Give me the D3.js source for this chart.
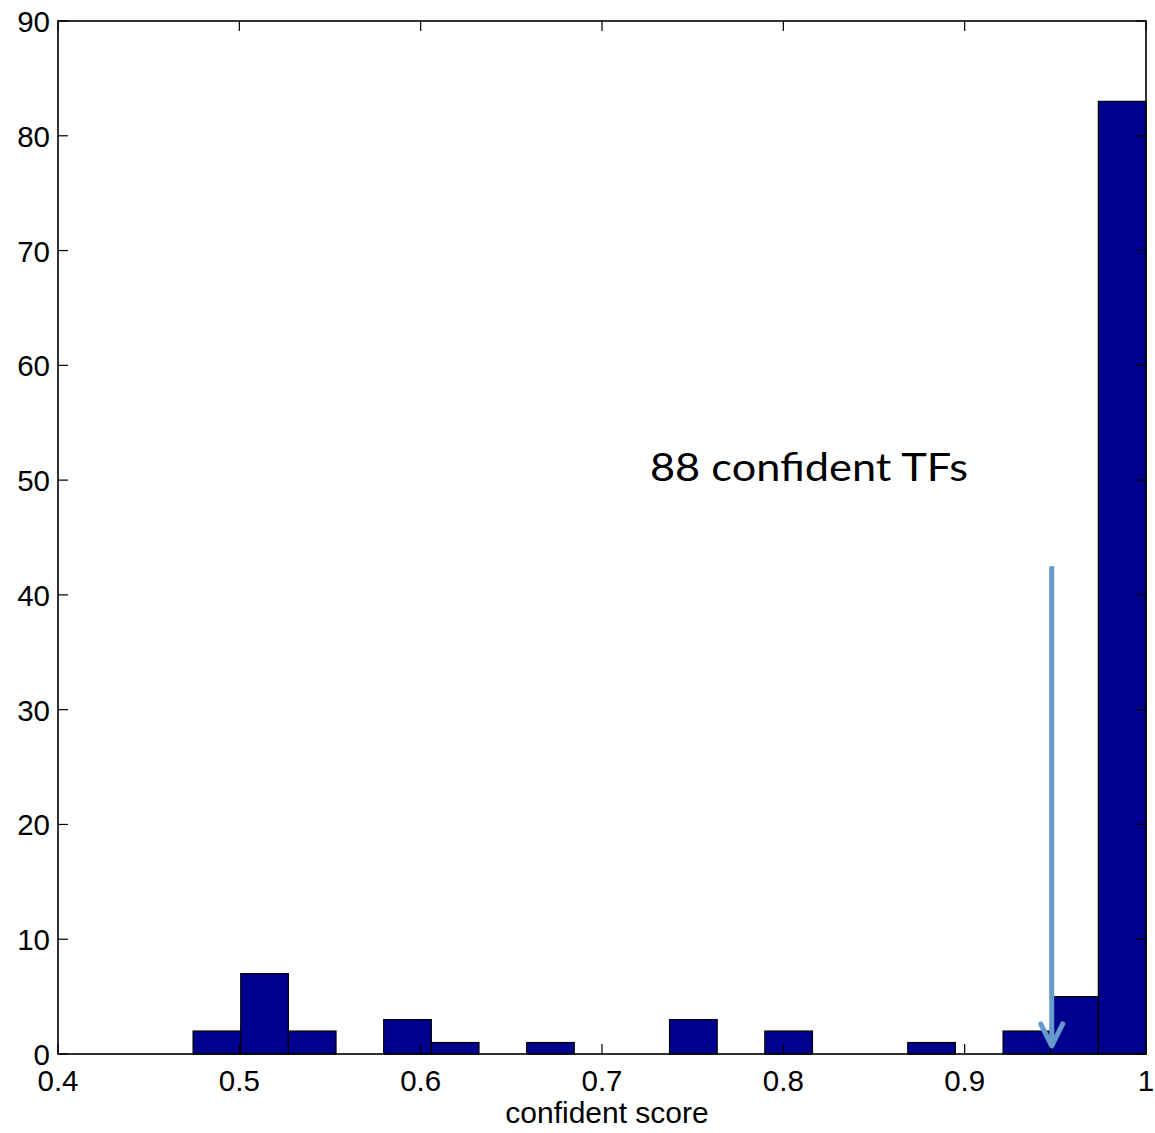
<!DOCTYPE html>
<html>
<head>
<meta charset="utf-8">
<script src="https://cdn.jsdelivr.net/npm/d3@7"></script>
<style>
body { margin: 0; background: #fff; }
svg { display: block; }
</style>
</head>
<body>
<script>
// Histogram: 20 bins from min to max
const binStart = 0.4745;
const binEnd = 1.0;
const counts = [2, 7, 2, 0, 3, 1, 0, 1, 0, 0, 3, 0, 2, 0, 0, 1, 0, 2, 5, 83];
const xTicks = [0.4, 0.5, 0.6, 0.7, 0.8, 0.9, 1];
const xTickLabels = ["0.4", "0.5", "0.6", "0.7", "0.8", "0.9", "1"];
const yTicks = [0, 10, 20, 30, 40, 50, 60, 70, 80, 90];
const xLabel = "confident score";
const annotation = "88 confident TFs";
const arrowX = 0.948;
const arrowFrom = 42.5;
const arrowTo = 0.7;

(function () {
const W = 1155, H = 1133;
const svg = d3.select("body").append("svg").attr("width", W).attr("height", H);

const mLeft = 58, mRight = 1146, mTop = 21, mBottom = 1054;
const x = d3.scaleLinear().domain([0.4, 1]).range([mLeft, mRight]);
const y = d3.scaleLinear().domain([0, 90]).range([mBottom, mTop]);

const nb = counts.length;
const bw = (binEnd - binStart) / nb;
const bins = counts.map((c, i) => ({ x0: binStart + i * bw, x1: binStart + (i + 1) * bw, c }));

// bars
svg.append("g").selectAll("rect").data(bins.filter(d => d.c > 0)).join("rect")
  .attr("x", d => x(d.x0))
  .attr("y", d => y(d.c))
  .attr("width", d => x(d.x1) - x(d.x0))
  .attr("height", d => y(0) - y(d.c))
  .attr("fill", "#00008f")
  .attr("stroke", "#000")
  .attr("stroke-width", 1.2);

// frame
svg.append("rect").attr("x", mLeft).attr("y", mTop).attr("width", mRight - mLeft).attr("height", mBottom - mTop)
  .attr("fill", "none").attr("stroke", "#000").attr("stroke-width", 1.6);

const tk = 10;
const font = "Liberation Sans, Arial, sans-serif";
const fs = 29.5;
// x ticks
const gx = svg.append("g");
xTicks.forEach((t, i) => {
  gx.append("line").attr("x1", x(t)).attr("x2", x(t)).attr("y1", mBottom).attr("y2", mBottom - tk).attr("stroke", "#000").attr("stroke-width", 1.2);
  gx.append("line").attr("x1", x(t)).attr("x2", x(t)).attr("y1", mTop).attr("y2", mTop + tk).attr("stroke", "#000").attr("stroke-width", 1.2);
  gx.append("text").attr("x", x(t)).attr("y", 1091).attr("text-anchor", "middle")
    .attr("font-family", font).attr("font-size", fs).text(xTickLabels[i]);
});
// y ticks
const gy = svg.append("g");
yTicks.forEach(t => {
  gy.append("line").attr("x1", mLeft).attr("x2", mLeft + tk).attr("y1", y(t)).attr("y2", y(t)).attr("stroke", "#000").attr("stroke-width", 1.2);
  gy.append("line").attr("x1", mRight).attr("x2", mRight - tk).attr("y1", y(t)).attr("y2", y(t)).attr("stroke", "#000").attr("stroke-width", 1.2);
  gy.append("text").attr("x", 50).attr("y", y(t) + 11).attr("text-anchor", "end")
    .attr("font-family", font).attr("font-size", fs).text(t);
});

// x label
svg.append("text").attr("x", 607).attr("y", 1123).attr("text-anchor", "middle")
  .attr("font-family", font).attr("font-size", 30).text(xLabel);

// annotation
svg.append("text").attr("x", 650).attr("y", 481)
  .attr("font-family", "Lato, 'Open Sans', sans-serif").attr("font-size", 39)
  .attr("textLength", 318).attr("lengthAdjust", "spacingAndGlyphs").text(annotation);

// arrow
const ax = x(arrowX);
const arrowColor = "#6699cc";
svg.append("line").attr("x1", ax).attr("x2", ax).attr("y1", y(arrowFrom)).attr("y2", y(arrowTo) - 2)
  .attr("stroke", arrowColor).attr("stroke-width", 5);
svg.append("path")
  .attr("d", `M${ax - 11},${y(arrowTo) - 22} L${ax},${y(arrowTo)} L${ax + 11},${y(arrowTo) - 22}`)
  .attr("fill", "none").attr("stroke", arrowColor).attr("stroke-width", 5)
  .attr("stroke-linecap", "round").attr("stroke-linejoin", "round");
})();
</script>
</body>
</html>
